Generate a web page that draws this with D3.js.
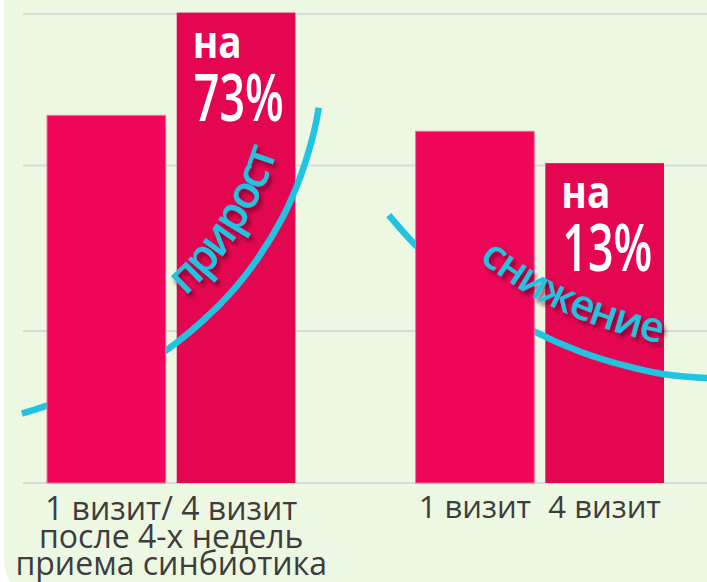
<!DOCTYPE html>
<html>
<head>
<meta charset="utf-8">
<script src="https://cdn.jsdelivr.net/npm/d3@7/dist/d3.min.js"></script>
<style>
  body { margin: 0; background: #ffffff; }
  svg { display: block; }
</style>
</head>
<body>
<div id="chart"></div>
<script>
// chart values
const groups = ["A", "B"];
const visits = ["1 визит", "4 визит"];
const valuesA = [78.4, 100.3];
const valuesB = [75.0, 68.2];
const gridValues = [0, 32.4, 67.7, 100];
const labelA = ["1 визит/ 4 визит", "после 4-х недель", "приема синбиотика"];
const labelB = ["1 визит", "4 визит"];
const changeLabels = [["на", "73%"], ["на", "13%"]];
const trendWords = ["прирост", "снижение"];
// trend arcs: [position inside group (0 = left edge, 1 = right edge), value]
const trendA = [[-0.101, 14.8], [0, 16.5], [0.214, 20.5], [0.464, 27.7], [0.685, 37.5],
                [0.819, 45.7], [0.952, 57.0], [1.020, 65.3], [1.073, 74.5], [1.094, 80.0]];
const trendB = [[-0.108, 57.1], [0, 50.7], [0.141, 44.0], [0.341, 36.4], [0.466, 32.6],
                [0.663, 28.0], [0.851, 24.9], [1.0, 23.2], [1.193, 22.3]];

const width = 707
const height = 582

const svg = d3.select("#chart").append("svg")
  .attr("width", width)
  .attr("height", height)

// drop shadow for the curved words
const defs = svg.append("defs")
defs.append("filter")
  .attr("id", "shadow")
  .attr("x", "-20%").attr("y", "-20%").attr("width", "140%").attr("height", "140%")
  .append("feDropShadow")
  .attr("dx", 3).attr("dy", 4)
  .attr("stdDeviation", 2.2)
  .attr("flood-color", "#5e0024")
  .attr("flood-opacity", 0.7)

// light green panel
svg.append("rect")
  .attr("x", 4).attr("y", -50)
  .attr("width", 760).attr("height", 650)
  .attr("rx", 40)
  .attr("fill", "#edf8e2")

const x0 = d3.scaleBand()
  .domain(groups)
  .range([47, 664])
  .paddingInner(0.326)
  .paddingOuter(0)

const x1 = d3.scaleBand()
  .domain(visits)
  .range([0, x0.bandwidth()])
  .paddingInner(0.085)

const y = d3.scaleLinear()
  .domain([0, 100])
  .range([483, 14])

// grid
svg.append("g")
  .selectAll("line")
  .data(gridValues)
  .enter()
  .append("line")
  .attr("x1", 23)
  .attr("x2", width)
  .attr("y1", d => y(d))
  .attr("y2", d => y(d))
  .attr("stroke", "#d9dbd6")
  .attr("stroke-width", 2)

const barColors = ["#ef0658", "#e50652"]
const groupValues = [valuesA, valuesB]
const bars = []
groups.forEach(function (g, gi) {
  visits.forEach(function (v, vi) {
    bars.push({ group: g, visit: v, vi: vi, gi: gi, value: groupValues[gi][vi] })
  })
})

function drawBars(layer, vi) {
  layer.selectAll("rect")
    .data(bars.filter(d => d.vi === vi))
    .enter()
    .append("rect")
    .attr("x", d => x0(d.group) + x1(d.visit))
    .attr("y", d => y(d.value))
    .attr("width", x1.bandwidth())
    .attr("height", d => y(0) - y(d.value))
    .attr("fill", barColors[vi])
    .attr("stroke", vi === 0 ? "#f4739c" : "none")
    .attr("stroke-width", 1)
}

// second-visit bars sit under the arcs, first-visit bars above them
drawBars(svg.append("g"), 1)

const trends = [trendA, trendB]
const curveLayer = svg.append("g")
trends.forEach(function (t, i) {
  const gx = d3.scaleLinear()
    .domain([0, 1])
    .range([x0(groups[i]), x0(groups[i]) + x0.bandwidth()])
  const line = d3.line()
    .x(d => gx(d[0]))
    .y(d => y(d[1]))
    .curve(d3.curveCatmullRom)
  curveLayer.append("path")
    .attr("id", "trend" + i)
    .attr("d", line(t))
    .attr("fill", "none")
    .attr("stroke", "#20c3e0")
    .attr("stroke-width", 6.5)
})

drawBars(svg.append("g"), 0)

// words along the arcs
const wordOffsets = [210, 100]
const wordSizes = [45, 42]
trendWords.forEach(function (w, i) {
  svg.append("text")
    .attr("dy", -30)
    .attr("font-family", "'Open Sans', sans-serif")
    .attr("font-weight", 600)
    .attr("font-size", wordSizes[i])
    .attr("fill", "#20c3e0")
    .attr("filter", "url(#shadow)")
    .append("textPath")
    .attr("href", "#trend" + i)
    .attr("startOffset", wordOffsets[i])
    .text(w)
})

// change labels inside the second-visit bars
groups.forEach(function (g, gi) {
  const bx = x0(g) + x1(visits[1]) + 16
  const by = y(groupValues[gi][1])
  svg.append("text")
    .attr("transform", "translate(" + bx + "," + (by + 45) + ") scale(0.88,1)")
    .attr("font-family", "'Open Sans', sans-serif")
    .attr("font-weight", 700)
    .attr("font-size", 44)
    .attr("fill", "#ffffff")
    .text(changeLabels[gi][0])
  svg.append("text")
    .attr("transform", "translate(" + (bx + 1) + "," + (by + 108) + ") scale(0.68,1)")
    .attr("font-family", "'Open Sans', sans-serif")
    .attr("font-weight", 600)
    .attr("font-size", 66)
    .attr("fill", "#ffffff")
    .text(changeLabels[gi][1])
})

// category labels
const labelFont = "'Open Sans', sans-serif"
svg.append("g")
  .selectAll("text")
  .data(labelA)
  .enter()
  .append("text")
  .attr("x", x0("A") + x0.bandwidth() / 2)
  .attr("y", (d, i) => y(0) + 37 + i * 27.5)
  .attr("text-anchor", "middle")
  .attr("font-family", labelFont)
  .attr("font-size", 32)
  .attr("fill", "#3d3d3d")
  .text(d => d)

svg.append("g")
  .selectAll("text")
  .data(labelB)
  .enter()
  .append("text")
  .attr("x", d => x0("B") + x1(d) + x1.bandwidth() / 2)
  .attr("y", y(0) + 35)
  .attr("text-anchor", "middle")
  .attr("font-family", labelFont)
  .attr("font-size", 31)
  .attr("fill", "#3d3d3d")
  .text(d => d)
</script>
</body>
</html>
